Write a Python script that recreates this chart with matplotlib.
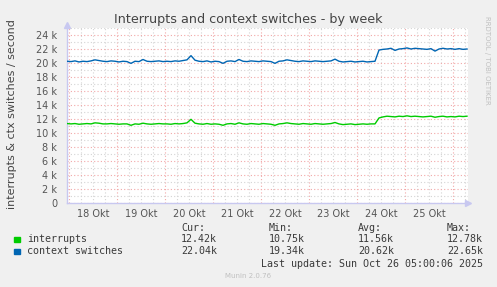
import matplotlib
matplotlib.use('Agg')
import matplotlib.pyplot as plt
from matplotlib.ticker import MultipleLocator, FuncFormatter
import numpy as np

# samples every 2 hours, hour 0 = 18 Okt 00:00
start_hour = -1
step_hours = 2

ctx = [20250, 20200, 20300, 20150, 20250, 20200, 20300, 20450, 20350, 20250,
       20200, 20300, 20250, 20150, 20250, 20200, 19950, 20250, 20200, 20500,
       20250, 20200, 20250, 20300, 20200, 20250, 20200, 20300, 20250, 20350,
       20450, 21050, 20400, 20250, 20200, 20300, 20150, 20250, 20200, 19950,
       20250, 20300, 20200, 20500, 20250, 20200, 20300, 20250, 20200, 20300,
       20250, 20200, 19950, 20250, 20300, 20450, 20350, 20250, 20200, 20300,
       20250, 20200, 20300, 20250, 20200, 20250, 20300, 20550, 20250, 20150,
       20200, 20250, 20150, 20200, 20250, 20150, 20200, 20250, 21850, 21950,
       22000, 22100, 21800, 22000, 22050, 22150, 22000, 22100, 22050, 22000,
       21950, 22050, 21700, 22000, 22100, 22000, 22050, 21950, 22050, 21950,
       22000]

irq = [11350, 11300, 11350, 11250, 11300, 11350, 11300, 11450, 11400, 11300,
       11300, 11350, 11300, 11250, 11300, 11300, 11100, 11300, 11250, 11400,
       11300, 11250, 11300, 11350, 11300, 11300, 11250, 11350, 11300, 11350,
       11450, 11950, 11400, 11300, 11250, 11350, 11250, 11300, 11250, 11100,
       11300, 11350, 11250, 11450, 11300, 11250, 11350, 11300, 11250, 11350,
       11300, 11250, 11100, 11300, 11350, 11450, 11350, 11300, 11250, 11350,
       11300, 11250, 11350, 11300, 11250, 11300, 11350, 11500, 11300, 11200,
       11250, 11300, 11200, 11250, 11300, 11250, 11300, 11300, 12150, 12300,
       12400, 12350, 12300, 12400, 12350, 12450, 12350, 12400, 12350, 12300,
       12350, 12400, 12250, 12350, 12400, 12300, 12350, 12300, 12400, 12350,
       12400]

day_labels = ['18 Okt', '19 Okt', '20 Okt', '21 Okt', '22 Okt', '23 Okt', '24 Okt', '25 Okt']

legend_names = ['interrupts', 'context switches']
legend_cur = ['12.42k', '22.04k']
legend_min = ['10.75k', '19.34k']
legend_avg = ['11.56k', '20.62k']
legend_max = ['12.78k', '22.65k']
colors = ['#00cc00', '#0066b3']

hours = start_hour + step_hours * np.arange(len(ctx))

W, H = 497, 287
fig = plt.figure(figsize=(W / 100, H / 100), dpi=100)
fig.patch.set_facecolor('#f0f0f0')
ax = fig.add_axes([67 / W, (H - 203) / H, (468 - 67) / W, (203 - 28) / H])
ax.set_facecolor('white')

ax.plot(hours, irq, color=colors[0], lw=1.0, zorder=3)
ax.plot(hours, ctx, color=colors[1], lw=1.0, zorder=3)

ax.set_xlim(-1, 199.5)
ax.set_ylim(0, 25000)

# grid
ax.xaxis.set_major_locator(MultipleLocator(24))
ax.xaxis.set_minor_locator(MultipleLocator(6))
ax.yaxis.set_major_locator(MultipleLocator(2000))
ax.yaxis.set_minor_locator(MultipleLocator(1000))
ax.grid(which='minor', color='#d4d4d4', linestyle=(0, (1, 2)), lw=0.8, zorder=1)
ax.grid(which='major', color='#f2a8a8', linestyle=(0, (1, 2)), lw=0.8, zorder=2)

ax.xaxis.set_major_formatter(FuncFormatter(lambda v, p: ''))
ax.xaxis.set_minor_formatter(FuncFormatter(
    lambda v, p: day_labels[int(v // 24)] if int(v) % 24 == 12 and 0 <= int(v // 24) < len(day_labels) else ''))
ax.yaxis.set_major_formatter(FuncFormatter(lambda v, p: '0' if v == 0 else '%d k' % (v / 1000)))

ax.tick_params(axis='both', which='both', length=0, labelsize=7, labelcolor='#555555')
ax.tick_params(axis='y', pad=7)
ax.tick_params(axis='x', which='minor', pad=4)

for s in ['top', 'right']:
    ax.spines[s].set_visible(False)
for s in ['left', 'bottom']:
    ax.spines[s].set_color('#c8c8f0')
    ax.spines[s].set_linewidth(1.0)
ax.plot(1, 0, '>', color='#c8c8f0', ms=4, transform=ax.transAxes, clip_on=False)
ax.plot(0, 1.02, '^', color='#c8c8f0', ms=4, transform=ax.transAxes, clip_on=False)

fig.text(248 / W, 1 - 19 / H, 'Interrupts and context switches - by week',
         ha='center', va='center', fontsize=9.2, color='#444444')
fig.text(12 / W, 1 - 114 / H, 'interrupts & ctx switches / second', rotation=90,
         ha='center', va='center', fontsize=8, color='#444444')
fig.text(487 / W, 1 - 60 / H, 'RRDTOOL / TOBI OETIKER', rotation=270,
         ha='center', va='center', fontsize=5, color='#c0c0c0')

mono = dict(family='DejaVu Sans Mono', fontsize=7.2, color='#3a3a3a', va='center')
fig.text(181 / W, 1 - 228 / H, 'Cur:', **mono)
fig.text(269 / W, 1 - 228 / H, 'Min:', **mono)
fig.text(358 / W, 1 - 228 / H, 'Avg:', **mono)
fig.text(447 / W, 1 - 228 / H, 'Max:', **mono)
for k in range(2):
    y = 1 - (239.5 + 12 * k) / H
    fig.patches.append(plt.Rectangle((14 / W, y - 2.5 / H), 5.5 / W, 5.5 / H,
                                     transform=fig.transFigure, color=colors[k]))
    fig.text(27 / W, y, legend_names[k], **mono)
    fig.text(181 / W, y, legend_cur[k], **mono)
    fig.text(269 / W, y, legend_min[k], **mono)
    fig.text(358 / W, y, legend_avg[k], **mono)
    fig.text(483 / W, y, legend_max[k], ha='right', **mono)
fig.text(483 / W, 1 - 264 / H, 'Last update: Sun Oct 26 05:00:06 2025', ha='right', **mono)
fig.text(248 / W, 1 - 276 / H, 'Munin 2.0.76', ha='center', va='center', fontsize=5, color='#c0c0c0')

plt.savefig('out.png', dpi=100, facecolor=fig.get_facecolor())
